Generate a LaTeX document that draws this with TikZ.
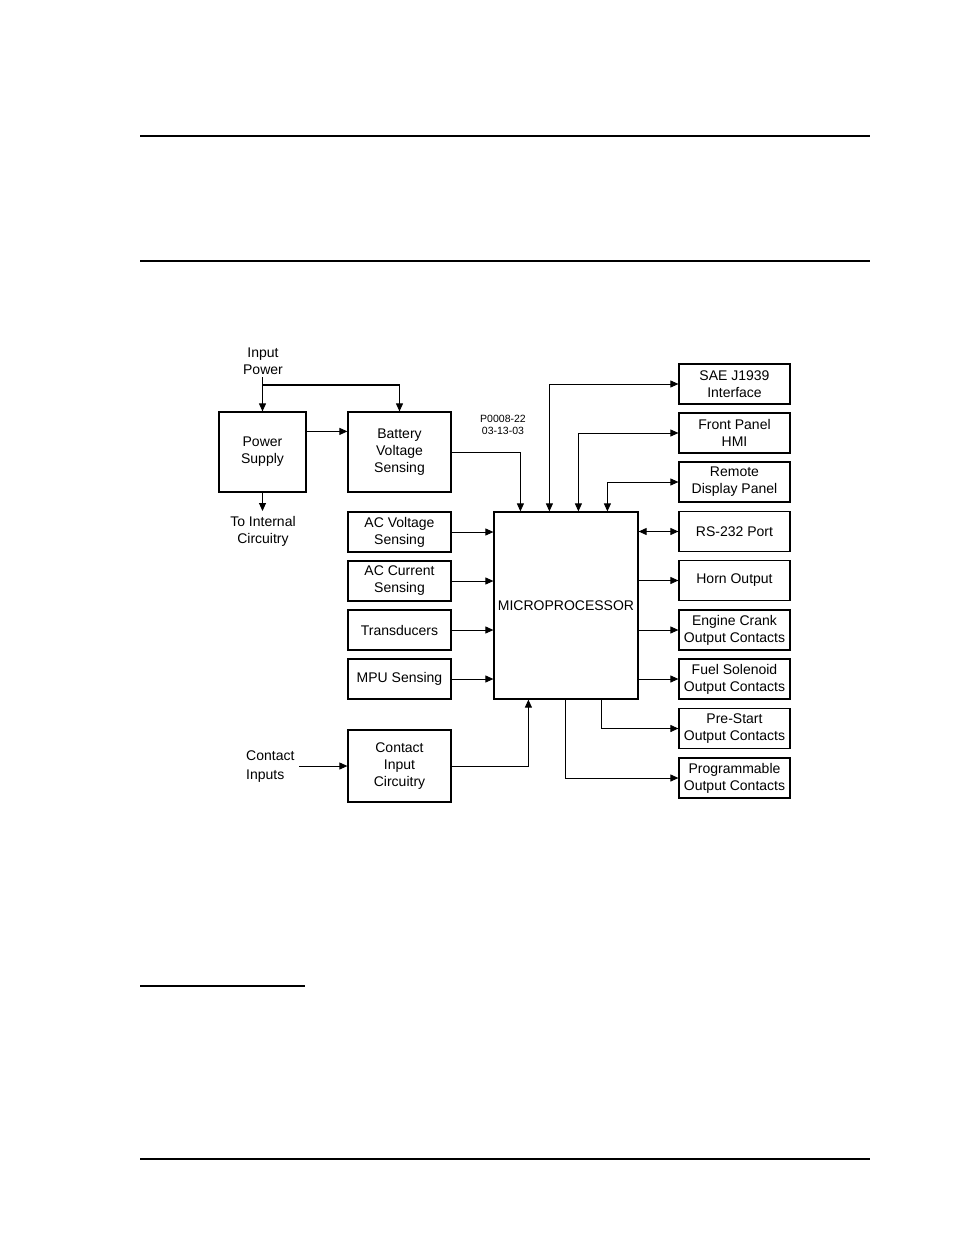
\documentclass[tikz,border=0pt]{standalone}
\usepackage{fontspec}
\setmainfont{Liberation Sans}
\usetikzlibrary{arrows.meta}
\begin{document}
\begin{tikzpicture}[x=1pt,y=-1pt,
  box/.style={draw, line width=1.2pt, inner sep=0pt, align=center, font=\fontsize{14}{17}\selectfont},
  rbox/.style={box, minimum width=111pt, minimum height=40pt},
  lbox/.style={box, minimum width=103pt, minimum height=40pt},
  conn/.style={line width=0.9pt},
  arr/.style={conn, -{Triangle[length=8pt,width=7pt]}},
  darr/.style={conn, {Triangle[length=8pt,width=7pt]}-{Triangle[length=8pt,width=7pt]}},
  lbl/.style={inner sep=0pt, align=center, font=\fontsize{14}{17}\selectfont},
  rule/.style={line width=2pt}]
\useasboundingbox (0,0) rectangle (954,1235);
% page rules
\draw[rule] (140,136) -- (870,136);
\draw[rule] (140,261) -- (870,261);
\draw[rule] (140,986) -- (305,986);
\draw[rule] (140,1159) -- (870,1159);
% left boxes
\node[box, minimum width=87pt, minimum height=80pt] (power) at (262.5,452) {Power\\Supply};
\node[box, minimum width=103pt, minimum height=80pt] (batt) at (399.5,452) {Battery\\Voltage\\Sensing};
\node[lbox] (acv) at (399.5,532) {AC Voltage\\Sensing};
\node[lbox] (acc) at (399.5,581) {AC Current\\Sensing};
\node[lbox] (trans) at (399.5,630) {Transducers};
\node[lbox] (mpu) at (399.5,679) {MPU Sensing};
\node[box, minimum width=103pt, minimum height=72pt] (contact) at (399.5,766) {Contact\\Input\\Circuitry};
% microprocessor
\node[box, minimum width=144pt, minimum height=187pt] (micro) at (566,605.5) {MICROPROCESSOR};
% right boxes
\node[rbox] (sae) at (734.5,384) {SAE J1939\\Interface};
\node[rbox] (hmi) at (734.5,433) {Front Panel\\HMI};
\node[rbox] (remote) at (734.5,482) {Remote\\Display Panel};
\node[rbox] (rs) at (734.5,531.5) {RS-232 Port};
\node[rbox] (horn) at (734.5,580.5) {Horn Output};
\node[rbox] (crank) at (734.5,630) {Engine Crank\\Output Contacts};
\node[rbox] (fuel) at (734.5,679) {Fuel Solenoid\\Output Contacts};
\node[rbox] (pre) at (734.5,728.5) {Pre-Start\\Output Contacts};
\node[rbox] (prog) at (734.5,778) {Programmable\\Output Contacts};
% labels
\node[lbl] (inpower) at (263,361) {Input\\Power};
\node[lbl] (tointernal) at (263,531) {To Internal\\Circuitry};
\node[lbl, anchor=west] (ci1) at (246,756) {Contact};
\node[lbl, anchor=west] (ci2) at (246,776) {Inputs};
\node[inner sep=0pt, align=center, font=\fontsize{10.5}{12}\selectfont] (pcode) at (503,425) {P0008-22\\03-13-03};
% coordinates
\coordinate (ip) at (262.5,377);
\coordinate (ipj) at (262.5,385);
\coordinate (psout) at (262.5,511);
\coordinate (cin) at (299,766);
% connectors
\draw[arr] (ip) -- (power.north);
\draw[line width=1.8pt] (ipj) -- (batt.north |- ipj);
\draw[arr] (batt.north |- ipj) -- (batt.north);
\draw[arr] ([yshift=-20pt]power.north east) -- ([yshift=-20pt]batt.north west);
\draw[arr] (power.south) -- (psout);
\draw[arr] (batt.east) -| ([xshift=27pt]micro.north west);
\draw[arr] (acv.east) -- (micro.west |- acv.east);
\draw[arr] (acc.east) -- (micro.west |- acc.east);
\draw[arr] (trans.east) -- (micro.west |- trans.east);
\draw[arr] (mpu.east) -- (micro.west |- mpu.east);
\draw[darr] ([xshift=56pt]micro.north west) |- (sae.west);
\draw[darr] ([xshift=85pt]micro.north west) |- (hmi.west);
\draw[darr] ([xshift=114pt]micro.north west) |- (remote.west);
\draw[darr] (micro.east |- rs.west) -- (rs.west);
\draw[arr] (micro.east |- horn.west) -- (horn.west);
\draw[arr] (micro.east |- crank.west) -- (crank.west);
\draw[arr] (micro.east |- fuel.west) -- (fuel.west);
\draw[arr] ([xshift=-37pt]micro.south east) |- (pre.west);
\draw[arr] ([xshift=72pt]micro.south west) |- (prog.west);
\draw[arr] (contact.east) -| ([xshift=35pt]micro.south west);
\draw[arr] (cin) -- (contact.west);
\end{tikzpicture}
\end{document}
